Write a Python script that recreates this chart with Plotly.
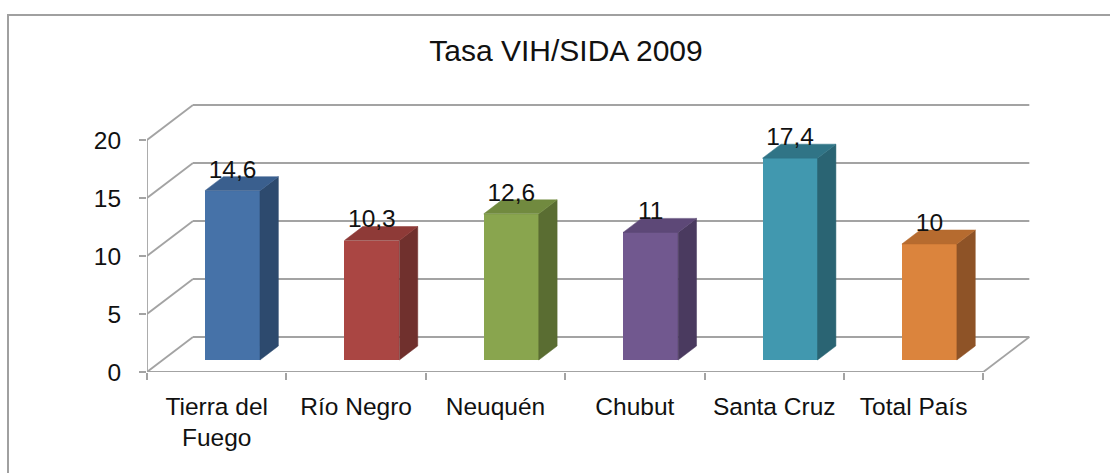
import plotly.graph_objects as go

# ---------------- data ----------------
categories = ["Tierra del<br>Fuego", "Río Negro", "Neuquén", "Chubut", "Santa Cruz", "Total País"]
values = [14.6, 10.3, 12.6, 11, 17.4, 10]
y_ticks = [0, 5, 10, 15, 20]
front_colors = ["#4672A8", "#AA4643", "#89A54E", "#71588F", "#4198AF", "#DB843D"]
top_colors = ["#3A5F8E", "#8E3A37", "#718A3F", "#5D4877", "#307486", "#B66B2F"]
side_colors = ["#2D4A6E", "#70302D", "#5A6D32", "#4A3A5F", "#2A6473", "#8E5327"]
title_text = "Tasa VIH/SIDA 2009"

# ---------------- geometry / style ----------------
W, H = 1110, 473
L, R, T, B = 147, 57, 90, 101
plot_w = W - L - R
plot_h = H - T - B
n = len(categories)
x_lo, x_hi = -0.5, 6.0
px_x = plot_w / (x_hi - x_lo)
px_y = 11.6
y_hi = plot_h / px_y

wall_dx = 46 / px_x
wall_dy = 35 / px_y
f_front, f_back = 0.343, 0.743
bar_w = 55 / px_x
x_end = n - 0.5
line_col = "#a3a3a3"
line_w = 1.8
font_fam = "Liberation Sans, Arial, sans-serif"
small = 24.5
label_drop = 7 / px_y  # data labels sit slightly on the bar top

fig = go.Figure()

# front faces of bars
bx = [i + f_front * wall_dx for i in range(n)]
base = f_front * wall_dy
fig.add_trace(go.Bar(x=bx, y=values, base=base, width=bar_w,
                     marker=dict(color=front_colors, line=dict(width=0)),
                     hoverinfo="skip"))

ddx = (f_back - f_front) * wall_dx
ddy = (f_back - f_front) * wall_dy
for i, v in enumerate(values):
    xl = bx[i] - bar_w / 2
    xr = bx[i] + bar_w / 2
    top = base + v
    # side face
    fig.add_trace(go.Scatter(
        x=[xr, xr + ddx, xr + ddx, xr, xr],
        y=[base, base + ddy, top + ddy, top, base],
        fill="toself", fillcolor=side_colors[i], mode="lines",
        line=dict(color=side_colors[i], width=0.5), hoverinfo="skip"))
    # top face
    fig.add_trace(go.Scatter(
        x=[xl, xl + ddx, xr + ddx, xr, xl],
        y=[top, top + ddy, top + ddy, top, top],
        fill="toself", fillcolor=top_colors[i], mode="lines",
        line=dict(color=top_colors[i], width=0.5), hoverinfo="skip"))

# data labels
labels = [f"{v:g}".replace(".", ",") for v in values]
fig.add_trace(go.Scatter(
    x=bx, y=[v + base + ddy - label_drop for v in values], text=labels, mode="text",
    textposition="top center", textfont=dict(size=small, color="#111", family=font_fam),
    hoverinfo="skip", cliponaxis=False))

# back wall, floor, axis lines as shapes below traces
shapes = []
def seg(x0, y0, x1, y1):
    shapes.append(dict(type="line", xref="x", yref="y", x0=x0, y0=y0, x1=x1, y1=y1,
                       line=dict(color=line_col, width=line_w), layer="below"))

for t in y_ticks:
    seg(-0.5 + wall_dx, t + wall_dy, x_end + wall_dx, t + wall_dy)
    seg(-0.5, t, -0.5 + wall_dx, t + wall_dy)
seg(-0.5, 0, x_end, 0)
seg(x_end, 0, x_end + wall_dx, wall_dy)
seg(-0.5, 0, -0.5, max(y_ticks))

# outer frame
plot_bottom = H - B
shapes.append(dict(type="rect", xref="paper", yref="paper",
                   x0=(8 - L) / plot_w, x1=(1125 - L) / plot_w,
                   y0=(plot_bottom - 490) / plot_h, y1=(plot_bottom - 15) / plot_h,
                   line=dict(color="#a0a0a0", width=2), layer="below"))

fig.update_layout(
    width=W, height=H,
    margin=dict(l=L, r=R, t=T, b=B, pad=0),
    paper_bgcolor="white", plot_bgcolor="white",
    showlegend=False,
    shapes=shapes,
    font=dict(family=font_fam, color="#111"),
    title=dict(text=title_text, x=566 / W, xanchor="center", xref="container",
               y=1 - 50 / H, yanchor="middle", font=dict(size=30, color="#111", family=font_fam)),
    xaxis=dict(range=[x_lo, x_hi], tickvals=list(range(n)), ticktext=categories,
               ticks="", showgrid=False, zeroline=False, showline=False,
               tickfont=dict(size=small, color="#111"), ticklabelstandoff=17,
               minor=dict(tickvals=[i - 0.5 for i in range(n + 1)], ticks="outside",
                          ticklen=7, tickcolor=line_col, tickwidth=line_w, showgrid=False),
               fixedrange=True),
    yaxis=dict(range=[0, y_hi], tickvals=y_ticks, ticktext=[str(t) for t in y_ticks],
               ticks="outside", ticklen=7, tickcolor=line_col, tickwidth=line_w,
               showgrid=False, zeroline=False, showline=False,
               tickfont=dict(size=small, color="#111"), ticklabelstandoff=13,
               fixedrange=True),
    bargap=0,
)

fig.write_html("out.html", config={"displayModeBar": False},
               post_script="document.body.style.margin='0';document.body.style.overflow='hidden';")
